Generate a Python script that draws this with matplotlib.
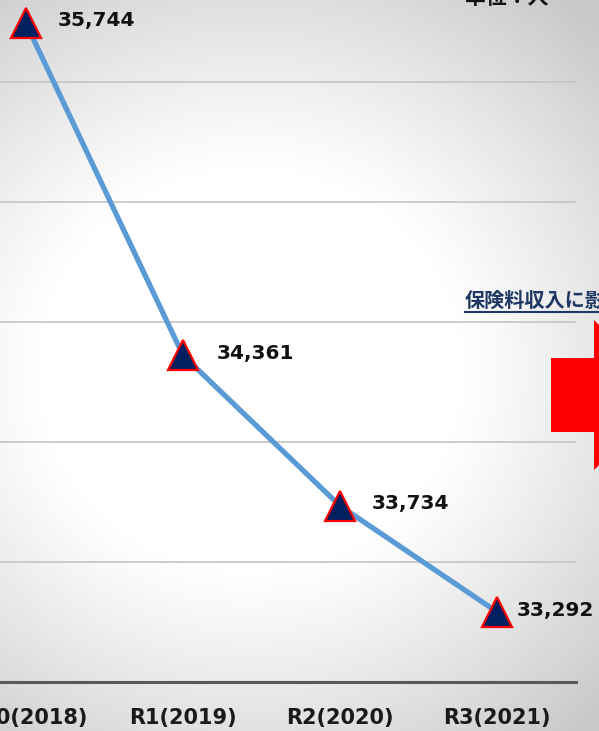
import numpy as np
import matplotlib
matplotlib.use("Agg")
import matplotlib.pyplot as plt
from matplotlib.patches import Polygon

# ---- data ----
categories = ["H30(2018)", "R1(2019)", "R2(2020)", "R3(2021)"]
values = [35744, 34361, 33734, 33292]
value_labels = ["35,744", "34,361", "33,734", "33,292"]
unit_text = "単位：人"
note_text = "保険料収入に影響"

W, H = 599, 731
fig = plt.figure(figsize=(W / 100, H / 100), dpi=100)

# radial gradient background
yy, xx = np.mgrid[0:H, 0:W]
r = np.sqrt(((xx - 250) / 1.05) ** 2 + (yy - 370) ** 2)
t = np.clip((r - 200) / 280, 0, 1)
v = (255 - 55 * t ** 1.1) / 255
bg = fig.add_axes([0, 0, 1, 1], zorder=0)
bg.imshow(np.dstack([v, v, v]), extent=[0, W, H, 0], aspect="auto", interpolation="bilinear")
bg.set_xlim(0, W)
bg.set_ylim(H, 0)
bg.axis("off")

# main axes (extends beyond figure, like the cropped reference)
left_px, right_px = -52.5, 575.5
bot_px, top_px = 682, -38
ax = fig.add_axes([left_px / W, (H - bot_px) / H, (right_px - left_px) / W, (bot_px - top_px) / H], zorder=1)
ax.patch.set_alpha(0)
x = np.arange(len(categories))
ax.set_xlim(-0.5, len(categories) - 0.5)
ax.set_ylim(33000, 36000)
ax.set_yticks([33500, 34000, 34500, 35000, 35500])
ax.yaxis.grid(True, color="#c4c4c4", linewidth=1.2)
ax.set_axisbelow(True)
for s in ["top", "right", "left"]:
    ax.spines[s].set_visible(False)
ax.spines["bottom"].set_color("#595959")
ax.spines["bottom"].set_linewidth(2.2)
ax.tick_params(axis="y", left=False, labelleft=False)
ax.tick_params(axis="x", length=0, pad=19)
ax.set_xticks(x)
ax.set_xticklabels(categories, fontsize=15, fontweight="bold", color="#1a1a1a")

ax.plot(x, values, color="#5B9BD5", linewidth=3.8, zorder=3)
ax.plot(x, values, linestyle="none", marker="^", markersize=21,
        markerfacecolor="#002060", markeredgecolor="#FF0000", markeredgewidth=1.6, zorder=4)

# offsets in points (px * 0.72)
offsets = [(23, 2), (24, 1), (23, 1.5), (14.5, 1)]
for xi, yi, lab, off in zip(x, values, value_labels, offsets):
    ax.annotate(lab, (xi, yi), xytext=off, textcoords="offset points",
                ha="left", va="center", fontsize=14.5, fontweight="bold", color="#111111",
                zorder=5, annotation_clip=False)

# overlay axes in pixel coords
ov = fig.add_axes([0, 0, 1, 1], zorder=2)
ov.set_xlim(0, W)
ov.set_ylim(H, 0)
ov.axis("off")
ov.patch.set_alpha(0)

ov.text(465, -3, unit_text, fontsize=15, fontweight="bold", color="#111111",
        ha="left", va="center", family=["Noto Sans CJK JP", "DejaVu Sans"])
ov.text(465, 300, note_text, fontsize=14.5, fontweight="bold", color="#1F3864",
        ha="left", va="center", family=["Noto Sans CJK JP", "DejaVu Sans"])
ov.plot([465, 640], [312, 312], color="#1F3864", linewidth=1.5, clip_on=True)

arrow = Polygon([(551, 358), (594, 358), (594, 320), (670, 395), (594, 470), (594, 432), (551, 432)],
                closed=True, facecolor="#FF0000", edgecolor="none")
ov.add_patch(arrow)

fig.savefig("out.png", dpi=100)
